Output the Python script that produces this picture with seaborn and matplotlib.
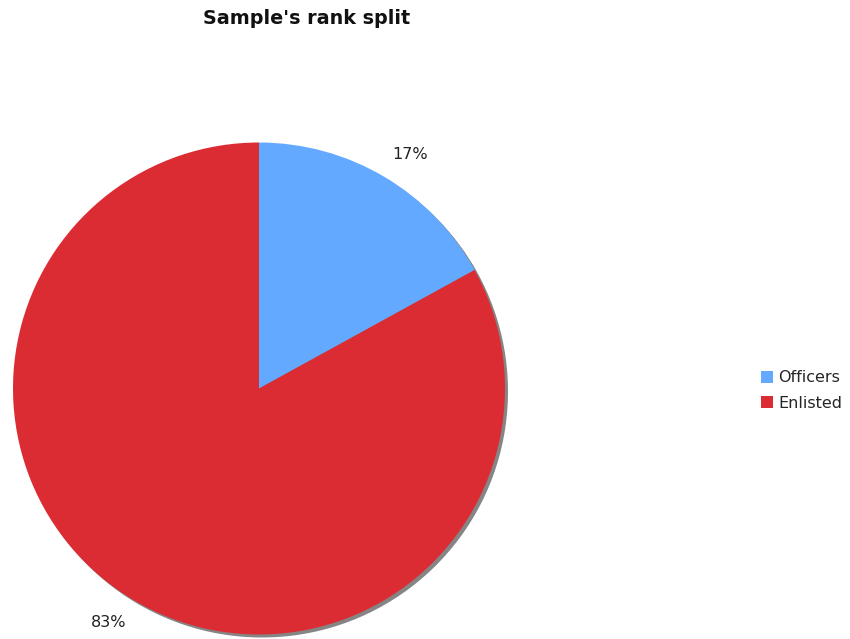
import matplotlib
matplotlib.use("Agg")
import numpy as np
import matplotlib.pyplot as plt
import seaborn as sns

categories = ["Officers", "Enlisted"]
shares = [17, 83]
colors = ["#63A9FF", "#DC2C33"]
title = "Sample's rank split"

sns.set_theme(style="white")
plt.rcParams['font.family'] = ['DejaVu Sans']

W, H = 850, 639
fig = plt.figure(figsize=(W / 100, H / 100), dpi=100)
ax = fig.add_axes([0, 0, 1, 1])
ax.set_xlim(0, W)
ax.set_ylim(0, H)
ax.set_aspect('equal')
ax.axis('off')

cx, cy, r = 259, H - 388.5, 246

# shadow
ax.pie(shares, colors=["#858585"] * len(shares), startangle=90, counterclock=False,
       center=(cx + 3, cy - 3), radius=r, frame=True,
       wedgeprops=dict(linewidth=0))

wedges, texts, autotexts = ax.pie(
    shares, colors=colors, startangle=90, counterclock=False,
    center=(cx, cy), radius=r, frame=True,
    autopct=lambda p: f"{p:.0f}%", pctdistance=1.13,
    wedgeprops=dict(linewidth=0),
    textprops=dict(fontsize=11.5, color="#222222"))

# rotate percentage labels slightly clockwise around the centre
rot = np.deg2rad(-2.2)
for t in autotexts:
    x, y = t.get_position()
    dx, dy = x - cx, y - cy
    t.set_position((cx + dx * np.cos(rot) - dy * np.sin(rot),
                    cy + dx * np.sin(rot) + dy * np.cos(rot)))

ax.set_xlim(0, W)
ax.set_ylim(0, H)
ax.axis('off')

fig.text(307 / W, 1 - 19 / H, title, ha='center', va='center',
         fontsize=13.8, fontweight='bold', color='#111111')

fig.legend(wedges, categories, loc='center left',
           bbox_to_anchor=(761 / W, 1 - 390.5 / H), frameon=False,
           fontsize=11.5, handlelength=0.75, handleheight=0.75,
           handletextpad=0.35, labelspacing=0.65, borderpad=0, borderaxespad=0)

fig.savefig("out.png", dpi=100)
